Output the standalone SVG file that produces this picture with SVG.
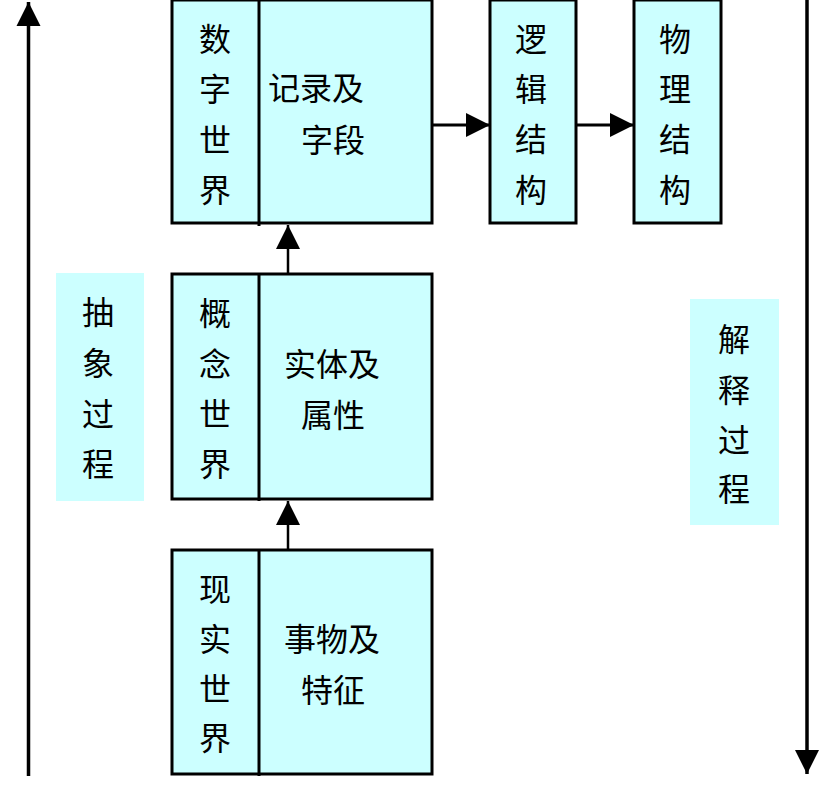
<svg xmlns="http://www.w3.org/2000/svg" width="838" height="786" viewBox="0 0 838 786">
<style>
.box{fill:#CCFFFF;stroke:#000;stroke-width:3}
.lab{fill:#CCFFFF;stroke:none}
.div{stroke:#000;stroke-width:3}
.t{font-family:"Noto Sans CJK SC","Noto Sans CJK TC",sans-serif;font-size:32px;fill:#000;text-anchor:middle;dominant-baseline:central}
.c{stroke:#000;fill:none}
</style>
<defs>
<marker id="ah" markerUnits="userSpaceOnUse" markerWidth="26" markerHeight="26" viewBox="0 -13 24 26" refX="24" refY="0" orient="auto">
<path d="M0,-12 L24,0 L0,12 z" fill="#000"/>
</marker>
</defs>
<rect width="838" height="786" fill="#fff"/>
<g id="label-abstract">
<rect class="lab" x="56" y="273" width="88" height="228"/>
<text class="t" x="98" y="310">抽</text>
<text class="t" x="98" y="361">象</text>
<text class="t" x="98" y="412">过</text>
<text class="t" x="98" y="462">程</text>
</g>
<g id="label-interpret">
<rect class="lab" x="690" y="299" width="89" height="226"/>
<text class="t" x="734" y="337">解</text>
<text class="t" x="734" y="388">释</text>
<text class="t" x="734" y="438">过</text>
<text class="t" x="734" y="487">程</text>
</g>
<g id="digital-world">
<rect class="box" x="172" y="0" width="260" height="223"/>
<line class="div" x1="259" y1="0" x2="259" y2="226"/>
<text class="t" x="215" y="37">数</text>
<text class="t" x="215" y="87">字</text>
<text class="t" x="215" y="138">世</text>
<text class="t" x="215" y="188">界</text>
<text class="t" x="316" y="86">记录及</text>
<text class="t" x="333" y="138">字段</text>
</g>
<g id="logical-structure">
<rect class="box" x="490" y="0" width="86" height="223"/>
<text class="t" x="531" y="37">逻</text>
<text class="t" x="531" y="87">辑</text>
<text class="t" x="531" y="137">结</text>
<text class="t" x="531" y="188">构</text>
</g>
<g id="physical-structure">
<rect class="box" x="634" y="0" width="87" height="223"/>
<text class="t" x="675" y="37">物</text>
<text class="t" x="675" y="87">理</text>
<text class="t" x="675" y="137">结</text>
<text class="t" x="675" y="188">构</text>
</g>
<g id="concept-world">
<rect class="box" x="172" y="274" width="260" height="225"/>
<line class="div" x1="259" y1="274" x2="259" y2="501"/>
<text class="t" x="215" y="311">概</text>
<text class="t" x="215" y="362">念</text>
<text class="t" x="215" y="412">世</text>
<text class="t" x="215" y="462">界</text>
<text class="t" x="332" y="362">实体及</text>
<text class="t" x="333" y="413">属性</text>
</g>
<g id="real-world">
<rect class="box" x="172" y="550" width="260" height="224"/>
<line class="div" x1="259" y1="550" x2="259" y2="776"/>
<text class="t" x="215" y="587">现</text>
<text class="t" x="215" y="637">实</text>
<text class="t" x="215" y="687">世</text>
<text class="t" x="215" y="736">界</text>
<text class="t" x="332" y="637">事物及</text>
<text class="t" x="333" y="688">特征</text>
</g>
<g id="connectors">
<line class="c" stroke-width="3.5" x1="28.5" y1="776" x2="28.5" y2="2" marker-end="url(#ah)"/>
<line class="c" stroke-width="3.5" x1="807" y1="0" x2="807" y2="774" marker-end="url(#ah)"/>
<line class="c" stroke-width="3" x1="432" y1="125" x2="490" y2="125" marker-end="url(#ah)"/>
<line class="c" stroke-width="3" x1="576" y1="125" x2="634" y2="125" marker-end="url(#ah)"/>
<line class="c" stroke-width="2.5" x1="288" y1="274" x2="288" y2="225" marker-end="url(#ah)"/>
<line class="c" stroke-width="2.5" x1="288" y1="550" x2="288" y2="501" marker-end="url(#ah)"/>
</g>
</svg>
